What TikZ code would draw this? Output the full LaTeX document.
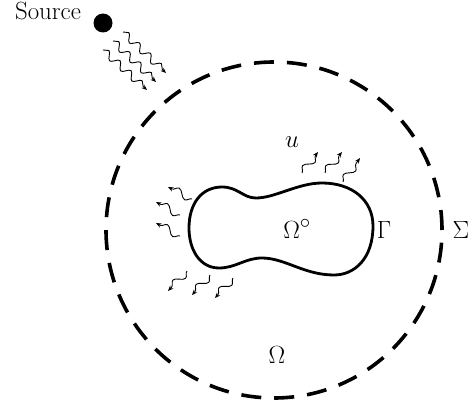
\documentclass[tikz,border=0pt]{standalone}
\usepackage{fontspec}
\usetikzlibrary{decorations.pathmorphing,arrows.meta}
\begin{document}
\begin{tikzpicture}[x=1pt,y=-1pt,
  lbl/.style={font=\Huge, anchor=base, inner sep=0pt},
  wave/.style={line width=0.9pt, -{Stealth[length=5.5pt,width=4.5pt]},
    decorate, decoration={snake, segment length=15pt, amplitude=3.6pt, post length=4pt}},
  swave/.style={line width=0.9pt, -{Stealth[length=5.5pt,width=4.5pt]},
    decorate, decoration={snake, segment length=20pt, amplitude=4pt, post length=2pt}},
  blob/.style={line width=2.8pt},
  outer/.style={line width=3.6pt, dash pattern=on 20pt off 13pt}]
\useasboundingbox (0,0) rectangle (469,409);
% outer dashed circle
\node[circle, minimum size=336pt, inner sep=0pt, outer, draw] (sigma) at (274,230) {};
% blob
\draw[blob] (189,228) .. controls (189,203) and (202,187) .. (222,187)
  .. controls (238,187) and (243,198) .. (256,198)
  .. controls (275,198) and (298,183) .. (322,183)
  .. controls (352,183) and (373,200) .. (373,226)
  .. controls (373,258) and (355,275) .. (334,275)
  .. controls (304,275) and (285,258) .. (262,258)
  .. controls (245,258) and (236,268) .. (219,268)
  .. controls (200,268) and (189,250) .. cycle;
% labels
\node[lbl] (src) at (48,19.5) {Source};
\node[lbl] (oc) at (297,238) {$\Omega^\circ$};
\node[lbl] (gam) at (384,238) {$\Gamma$};
\node[lbl] (sig) at (461,238) {$\Sigma$};
\node[lbl] (om) at (277,363) {$\Omega$};
\node[lbl] (u) at (292,148) {$u$};
% source dot
\node[circle, fill=black, minimum size=19pt, inner sep=0pt] (dot) at (103,23) {};
% source waves
\coordinate (s1a) at (103,50); \coordinate (s1b) at (147,90);
\coordinate (s2a) at (113,41); \coordinate (s2b) at (156,82);
\coordinate (s3a) at (123,32); \coordinate (s3b) at (166,73);
\draw[wave] (s1a) -- (s1b);
\draw[wave] (s2a) -- (s2b);
\draw[wave] (s3a) -- (s3b);
% left scattered
\coordinate (l1a) at (192,199); \coordinate (l1b) at (168,187);
\coordinate (l2a) at (180,215); \coordinate (l2b) at (156,202);
\coordinate (l3a) at (180,236); \coordinate (l3b) at (156,223);
\draw[swave] (l1a) -- (l1b);
\draw[swave] (l2a) -- (l2b);
\draw[swave] (l3a) -- (l3b);
% bottom scattered
\coordinate (b1a) at (187,271); \coordinate (b1b) at (168,291);
\coordinate (b2a) at (210,275); \coordinate (b2b) at (192,295);
\coordinate (b3a) at (233,278); \coordinate (b3b) at (215,298);
\draw[swave] (b1a) -- (b1b);
\draw[swave] (b2a) -- (b2b);
\draw[swave] (b3a) -- (b3b);
% top scattered
\coordinate (t1a) at (302,173); \coordinate (t1b) at (318,152);
\coordinate (t2a) at (325,173); \coordinate (t2b) at (342,152);
\coordinate (t3a) at (343,182); \coordinate (t3b) at (360,158);
\draw[swave] (t1a) -- (t1b);
\draw[swave] (t2a) -- (t2b);
\draw[swave] (t3a) -- (t3b);
\end{tikzpicture}
\end{document}
